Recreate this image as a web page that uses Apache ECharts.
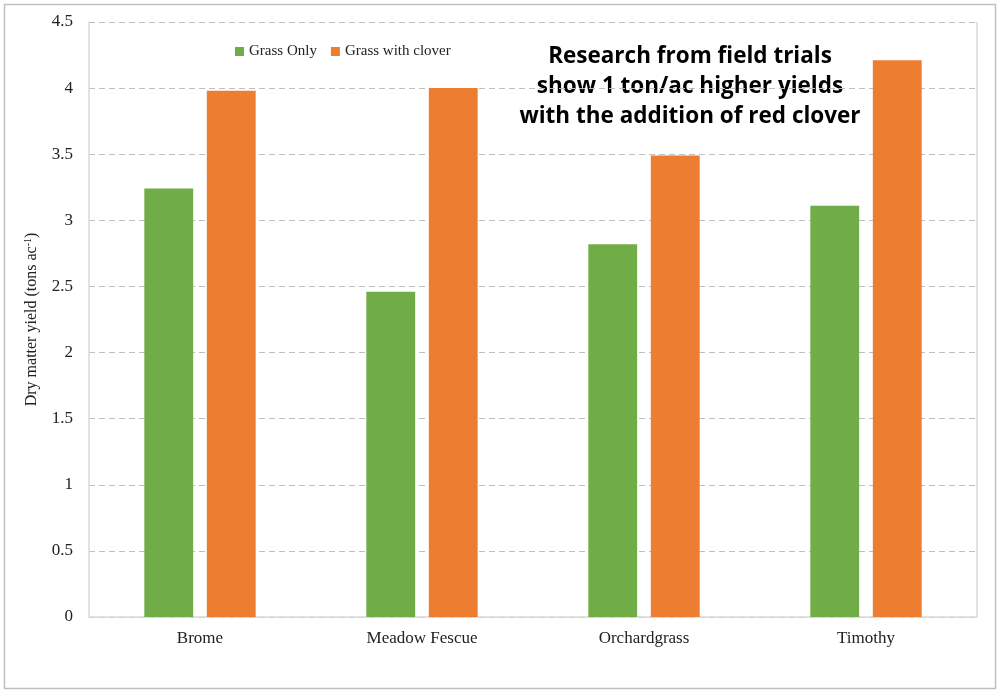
<!DOCTYPE html>
<html><head><meta charset="utf-8">
<script src="https://cdn.jsdelivr.net/npm/echarts@6/dist/echarts.min.js"></script>
<style>html,body{margin:0;padding:0;background:#fff}#c{width:1000px;height:693px}</style>
</head><body><div id="c"></div>
<script>
const categories = ["Brome", "Meadow Fescue", "Orchardgrass", "Timothy"];
const grassOnly = [3.24, 2.46, 2.82, 3.11];
const grassClover = [3.98, 4.00, 3.49, 4.21];
const yTicks = [0, 0.5, 1, 1.5, 2, 2.5, 3, 3.5, 4, 4.5];
const seriesNames = ["Grass Only", "Grass with clover"];
const note = ["Research from field trials", "show 1 ton/ac higher yields", "with the addition of red clover"];

const chart = echarts.init(document.getElementById('c'));
const serif = '"Liberation Serif", "Times New Roman", serif';
chart.setOption({
  backgroundColor: '#fff',
  animation: false,
  graphic: [
    {type: 'rect', shape: {x: 4.5, y: 4.5, width: 991, height: 684}, style: {fill: 'none', stroke: '#bfbfbf', lineWidth: 1.5}},
    {type: 'text', style: {text: note.join('\n'), x: 690, y: 42, textAlign: 'center', font: 'bold 22.5px "Open Sans", "Noto Sans", sans-serif', lineHeight: 30, fill: '#000'}},
    {type: 'line', shape: {x1: 977, y1: 22, x2: 977, y2: 617}, style: {stroke: '#d9d9d9', lineWidth: 1.5}}
  ],
  legend: {
    data: seriesNames, left: 230, top: 39, itemWidth: 9, itemHeight: 9, itemGap: 14,
    icon: 'rect',
    textStyle: {fontFamily: serif, fontSize: 15, color: '#222'}
  },
  grid: {left: 89, right: 23, top: 22, bottom: 76},
  xAxis: {
    type: 'category', data: categories,
    axisLine: {lineStyle: {color: '#d9d9d9', width: 1.5}},
    axisTick: {show: false},
    axisLabel: {fontFamily: serif, fontSize: 17, color: '#222', margin: 13}
  },
  yAxis: {
    type: 'value', min: 0, max: 4.5, interval: 0.5,
    name: '{a|Dry matter yield (tons ac}{s|-1}{a|)}', nameLocation: 'middle', nameGap: 49,
    nameTextStyle: {rich: {a: {fontFamily: serif, fontSize: 16, color: '#222'}, s: {fontFamily: serif, fontSize: 10, color: '#222', verticalAlign: 'top', padding: [0,0,7,0]}}},
    axisLine: {show: true, lineStyle: {color: '#d9d9d9', width: 1.5}},
    axisLabel: {fontFamily: serif, fontSize: 17, color: '#222', margin: 16,
      formatter: v => yTicks.includes(v) ? String(v) : ''},
    splitLine: {lineStyle: {color: '#bfbfbf', type: [6, 4], width: 1}}
  },
  series: [
    {name: seriesNames[0], type: 'bar', data: grassOnly, barWidth: '22%', barGap: '28%', itemStyle: {color: '#70ad47'}},
    {name: seriesNames[1], type: 'bar', data: grassClover, barWidth: '22%', barGap: '28%', itemStyle: {color: '#ed7d31'}}
  ]
});
</script></body></html>
